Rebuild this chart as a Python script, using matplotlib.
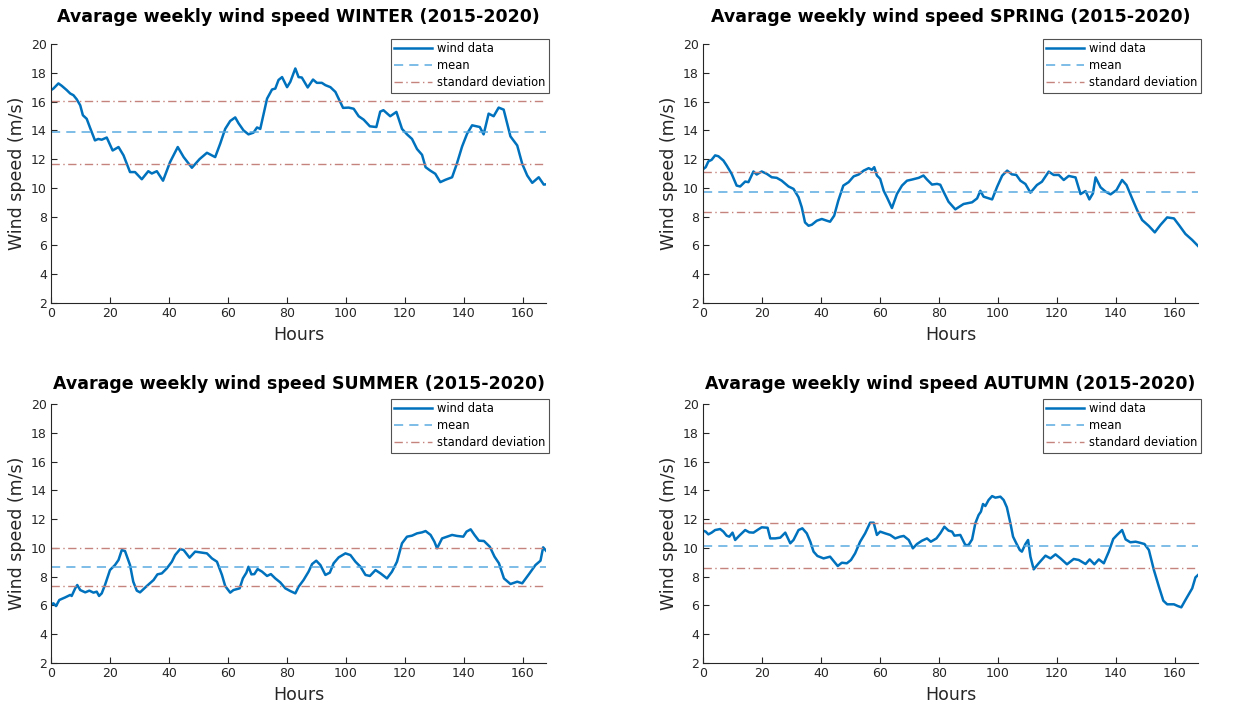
import numpy as np
import matplotlib.pyplot as plt

# hourly profiles over one week, read per season
winter_h = [0, 0.8, 2.5, 3.6, 5.3, 6.5, 7.6, 8.7, 9.9, 10.8, 12.1, 13.2, 14.9, 16, 17.2, 18.9,
            20.9, 22.9, 24.6, 26.8, 28.5, 30.8, 33, 34.2, 35.9, 38, 40.4, 43, 45, 47.8, 50.4,
            52.9, 55.7, 57.4, 59.1, 60.8, 62.5, 63.6, 65.3, 67, 68.7, 69.9, 71, 73.3, 75, 76.1,
            77.2, 78.4, 80.1, 81.2, 82.9, 84, 85.1, 87.1, 88.9, 90.2, 91.9, 93.1, 94.8, 96.5,
            97.6, 99.1, 101, 102.7, 104.4, 106.1, 108.2, 110.4, 111.7, 112.8, 115.1, 117.2,
            119.1, 120.8, 122.5, 124.2, 125.9, 127.1, 128.7, 130.4, 132.1, 133.8, 136.1, 137.7,
            139.5, 141.2, 142.9, 145.5, 146.8, 148.5, 150.2, 151.9, 153.6, 155.9, 158.2, 159.9,
            161.6, 163.3, 165.5, 167.2, 168]
winter_v = [16.8, 16.9, 17.26, 17.1, 16.8, 16.56, 16.44, 16.16, 15.74, 15.05, 14.8, 14.2, 13.3,
            13.4, 13.35, 13.5, 12.6, 12.84, 12.26, 11.1, 11.1, 10.6, 11.16, 11.0, 11.16, 10.5,
            11.8, 12.84, 12.14, 11.4, 12.0, 12.44, 12.14, 13.07, 14.1, 14.65, 14.9, 14.5, 14.0,
            13.72, 13.84, 14.2, 14.1, 16.2, 16.84, 16.9, 17.5, 17.7, 17.0, 17.37, 18.3, 17.7,
            17.67, 16.98, 17.53, 17.3, 17.3, 17.14, 17.0, 16.67, 16.2, 15.56, 15.58, 15.5,
            14.98, 14.74, 14.28, 14.23, 15.3, 15.4, 14.98, 15.28, 14.1, 13.72, 13.4, 12.7,
            12.3, 11.44, 11.2, 10.98, 10.4, 10.56, 10.74, 11.67, 12.88, 13.77, 14.35, 14.23,
            13.72, 15.16, 14.98, 15.58, 15.44, 13.58, 12.95, 11.67, 10.86, 10.35, 10.74, 10.23,
            10.25]
winter_mean, winter_std = 13.85, 2.22

spring_h = [0, 0.9, 1.8, 2.9, 4.1, 5.2, 6.9, 8, 9.7, 11.4, 12.6, 14.3, 15.4, 17.1, 18.2, 19.9,
            21.6, 23.3, 25, 26.7, 29, 30.7, 32.4, 33.5, 34.6, 35.8, 36.9, 38.6, 40.3, 42, 43.1,
            44.5, 45.9, 47.6, 49.4, 51.1, 52.8, 54.5, 56.2, 57.3, 58.1, 59, 60.1, 61.3, 62.4,
            64.1, 65.8, 67.5, 69.2, 70.9, 73.2, 74.8, 76, 77.7, 79.4, 80.5, 81.6, 83.3, 85.6,
            88.4, 91.3, 93, 94.1, 95.2, 98.1, 99.8, 101.5, 103.2, 104.8, 106.3, 107.7, 109.4,
            111.1, 113.3, 115, 117.3, 119, 120.7, 122.4, 124.1, 126.4, 128.1, 129.8, 131.1,
            132.3, 133.2, 134.9, 136.6, 138.3, 140.3, 142.2, 143.7, 145.6, 147.3, 149, 151.3,
            153.3, 155.2, 157.5, 159.8, 161.5, 163.7, 166, 168]
spring_v = [11.3, 11.44, 11.84, 11.95, 12.26, 12.2, 11.9, 11.56, 10.98, 10.16, 10.1, 10.44,
            10.4, 11.14, 10.93, 11.14, 10.98, 10.74, 10.7, 10.5, 10.1, 9.93, 9.35, 8.65, 7.6,
            7.37, 7.44, 7.72, 7.84, 7.72, 7.65, 8.07, 9.12, 10.16, 10.4, 10.8, 10.93, 11.2,
            11.37, 11.26, 11.44, 10.86, 10.63, 9.8, 9.35, 8.6, 9.58, 10.16, 10.5, 10.58, 10.7,
            10.86, 10.58, 10.23, 10.28, 10.22, 9.74, 9.04, 8.51, 8.88, 9.0, 9.27, 9.8, 9.39,
            9.2, 10.08, 10.85, 11.2, 10.94, 10.9, 10.5, 10.27, 9.67, 10.2, 10.43, 11.13, 10.9,
            10.9, 10.55, 10.83, 10.73, 9.57, 9.78, 9.2, 9.62, 10.73, 10.04, 9.74, 9.55, 9.85,
            10.55, 10.2, 9.27, 8.46, 7.77, 7.35, 6.91, 7.42, 7.95, 7.88, 7.42, 6.8, 6.38, 5.96]
spring_mean, spring_std = 9.74, 1.39

summer_h = [0, 0.8, 1.7, 2.8, 4.8, 6.5, 7, 8.2, 8.9, 9.9, 11.6, 13, 14.4, 15.5, 16.3, 17.2,
            18.3, 20, 21.7, 22.9, 24, 25.1, 26.8, 27.9, 29.1, 30.2, 32.5, 34.8, 36.1, 37.6,
            39.3, 41, 42.1, 43.8, 45, 47, 48.9, 51.2, 52.9, 54.6, 56.3, 58, 59.1, 60.8, 61.9,
            64, 65.1, 66.3, 67, 68, 69, 70.1, 71.6, 73.3, 74.6, 76.1, 77.8, 79.5, 81.2, 82.9,
            84, 85.7, 87.4, 88.6, 90, 91.4, 93.1, 94.6, 95.9, 97.6, 99.9, 101.6, 103.3, 105,
            106.7, 108.2, 110.1, 111.8, 114, 115.7, 117.4, 119.1, 120.8, 122.5, 124.2, 125.9,
            127.1, 128.8, 130.1, 131, 132.7, 134.4, 136.1, 137.8, 139.9, 141, 142.4, 143.7,
            145.2, 146.9, 148.9, 150.5, 152, 153.7, 155.9, 158.2, 159.9, 162.2, 164.4, 166.1,
            167, 168]
summer_v = [6.05, 6.15, 5.96, 6.38, 6.56, 6.73, 6.66, 7.19, 7.42, 7.07, 6.91, 7.03, 6.89,
            6.96, 6.66, 6.84, 7.42, 8.46, 8.81, 9.16, 9.85, 9.78, 8.81, 7.65, 7.03, 6.91, 7.35,
            7.77, 8.16, 8.23, 8.58, 9.04, 9.5, 9.92, 9.85, 9.32, 9.74, 9.67, 9.62, 9.27, 9.04,
            8.12, 7.35, 6.89, 7.07, 7.19, 7.88, 8.28, 8.69, 8.16, 8.18, 8.53, 8.35, 8.05, 8.18,
            7.88, 7.6, 7.19, 7.0, 6.84, 7.3, 7.77, 8.35, 8.88, 9.11, 8.81, 8.12, 8.28, 8.93,
            9.34, 9.62, 9.5, 9.04, 8.69, 8.12, 8.05, 8.46, 8.23, 7.88, 8.35, 9.04, 10.32, 10.78,
            10.85, 11.01, 11.08, 11.17, 10.9, 10.43, 9.97, 10.66, 10.78, 10.9, 10.83, 10.78,
            11.13, 11.29, 10.9, 10.5, 10.48, 10.08, 9.39, 8.93, 7.88, 7.49, 7.65, 7.54, 8.18,
            8.81, 9.11, 10.04, 9.8]
summer_mean, summer_std = 8.69, 1.33

autumn_h = [0, 0.9, 1.8, 2.9, 4.1, 5.8, 6.9, 8, 8.9, 10, 10.9, 12.3, 14.3, 15.7, 17.1, 18.8,
            19.9, 21.9, 22.8, 24.5, 26.2, 27.9, 29.6, 30.7, 32.4, 33.7, 35.2, 36.4, 37.5, 38.8,
            40.9, 43.1, 44.5, 45.7, 47.1, 48.8, 50.2, 51.6, 53.3, 55, 56.7, 57.9, 59, 60.1,
            61.8, 63.5, 65.2, 66.9, 68.1, 69.8, 71.2, 72.6, 74.3, 76, 77.3, 79.2, 80.5, 81.9,
            83.3, 84.5, 85.3, 87.3, 89, 90.1, 91.3, 92.4, 93.5, 94.3, 95, 95.8, 96.9, 98.1,
            99.2, 100.9, 102, 103.1, 104.3, 105.2, 106.3, 107.5, 108.2, 109.4, 110.3, 111.1,
            112.2, 113.9, 116.2, 117.9, 119.6, 121.3, 123.5, 125.8, 127.5, 129.8, 131.2,
            132.8, 134.3, 136, 137.7, 139.2, 140.5, 142.2, 143.4, 145, 146.8, 148.2, 149.8,
            151.3, 153, 154.7, 156.2, 157.5, 159.8, 161.1, 162.3, 163.7, 166, 167.1, 168]
autumn_v = [11.2, 11.13, 10.94, 11.06, 11.24, 11.31, 11.13, 10.85, 10.78, 11.06, 10.55, 10.85,
            11.24, 11.08, 11.06, 11.29, 11.43, 11.4, 10.66, 10.66, 10.71, 11.06, 10.32, 10.55,
            11.24, 11.36, 11.01, 10.43, 9.74, 9.44, 9.27, 9.39, 9.04, 8.74, 8.97, 8.93, 9.16,
            9.62, 10.43, 11.01, 11.75, 11.75, 10.9, 11.13, 11.01, 10.9, 10.66, 10.78, 10.83,
            10.55, 9.97, 10.27, 10.5, 10.66, 10.43, 10.66, 11.01, 11.47, 11.2, 11.13, 10.85,
            10.9, 10.2, 10.2, 10.59, 11.71, 12.28, 12.52, 13.05, 12.91, 13.33, 13.6, 13.49,
            13.56, 13.33, 12.82, 11.71, 10.78, 10.32, 9.85, 9.74, 10.27, 10.55, 9.39, 8.51,
            8.93, 9.46, 9.27, 9.55, 9.27, 8.86, 9.23, 9.16, 8.88, 9.2, 8.86, 9.2, 8.93, 9.74,
            10.62, 10.9, 11.24, 10.59, 10.39, 10.43, 10.36, 10.27, 9.85, 8.46, 7.3, 6.33, 6.08,
            6.08, 5.96, 5.87, 6.38, 7.19, 7.95, 8.12]
autumn_mean, autumn_std = 10.15, 1.56

seasons = [
    ('WINTER', winter_h, winter_v, winter_mean, winter_std),
    ('SPRING', spring_h, spring_v, spring_mean, spring_std),
    ('SUMMER', summer_h, summer_v, summer_mean, summer_std),
    ('AUTUMN', autumn_h, autumn_v, autumn_mean, autumn_std),
]

plt.rcParams['font.family'] = 'DejaVu Sans'
fig = plt.figure(figsize=(12.33, 7.13), dpi=100)

# axes boxes in figure fractions: [left, bottom, width, height]
boxes = [
    [0.0414, 0.575, 0.4015, 0.3633],
    [0.5702, 0.575, 0.4015, 0.3633],
    [0.0414, 0.0701, 0.4015, 0.3633],
    [0.5702, 0.0701, 0.4015, 0.3633],
]
title_pads = [16, 16, 11, 11]

axcol = '#262626'
for box, tpad, (name, hrs, vals, m, s) in zip(boxes, title_pads, seasons):
    ax = fig.add_axes(box)
    ax.plot(hrs, vals, color='#0072BD', lw=1.8, label='wind data')
    ax.axhline(m, color='#5AAAE0', lw=1.1, ls=(0, (6, 4)), label='mean')
    ax.axhline(m + s, color='#C4837D', lw=1.0, ls=(0, (6, 2.5, 1, 2.5)),
               label='standard deviation')
    ax.axhline(m - s, color='#C4837D', lw=1.0, ls=(0, (6, 2.5, 1, 2.5)))
    ax.set_xlim(0, 168)
    ax.set_ylim(2, 20)
    ax.set_xticks(np.arange(0, 161, 20))
    ax.set_yticks(np.arange(2, 21, 2))
    ax.spines['top'].set_visible(False)
    ax.spines['right'].set_visible(False)
    for sp in ('left', 'bottom'):
        ax.spines[sp].set_color(axcol)
        ax.spines[sp].set_linewidth(0.8)
    ax.tick_params(direction='in', length=4, width=0.8, colors=axcol,
                   labelsize=9, labelcolor=axcol, pad=3)
    ax.set_xlabel('Hours', fontsize=12.5, color=axcol, labelpad=4)
    ax.set_ylabel('Wind speed (m/s)', fontsize=12.5, color=axcol, labelpad=3.5)
    ax.set_title(f'Avarage weekly wind speed {name} (2015-2020)',
                 fontsize=12.5, fontweight='bold', pad=tpad)
    leg = ax.legend(loc='upper right', bbox_to_anchor=(1.005, 1.02), borderaxespad=0,
                    fontsize=8.3, frameon=True, fancybox=False, handlelength=3.3,
                    labelspacing=0.35, borderpad=0.3, handletextpad=0.4)
    leg.get_frame().set_edgecolor(axcol)
    leg.get_frame().set_linewidth(0.8)

fig.savefig('out.png', dpi=100)
